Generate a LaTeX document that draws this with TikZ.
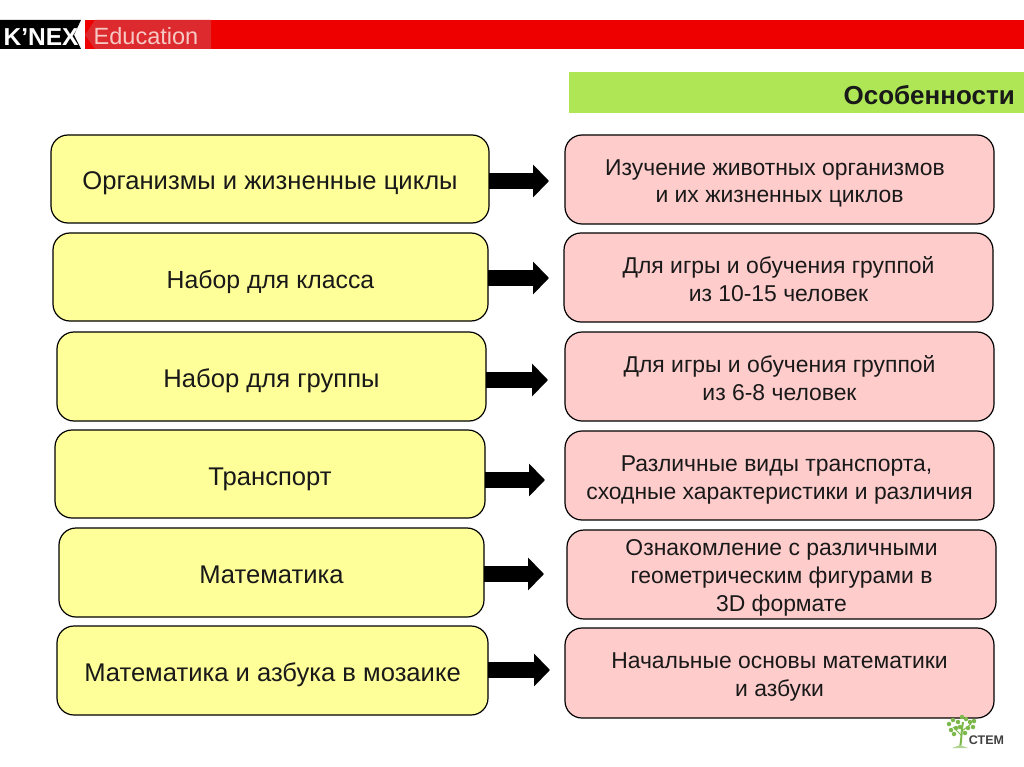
\documentclass[tikz,border=0pt]{standalone}
\usepackage{fontspec}
\setmainfont{Liberation Sans}
\usetikzlibrary{arrows.meta}
\definecolor{boxyellow}{HTML}{FFFF99}
\definecolor{boxpink}{HTML}{FFCCCC}
\definecolor{headgreen}{HTML}{AEE655}
\definecolor{bandred}{HTML}{EE0000}
\definecolor{logored}{HTML}{DC2A2E}
\definecolor{logotext}{HTML}{F6C9C4}
\definecolor{treegreen}{HTML}{7DB84A}
\tikzset{
  topic/.style={draw=black, fill=boxyellow, rounded corners=17pt, line width=1.2pt, inner sep=0pt, outer sep=0pt, align=center, text=black!90, text height=22pt, text depth=0pt, font=\fontsize{25.6}{28}\selectfont},
  feature/.style={draw=black, fill=boxpink, rounded corners=17pt, line width=1.2pt, inner sep=0pt, outer sep=0pt, align=center, text=black!90, text height=47pt, text depth=0pt, font=\fontsize{22.9}{27.8}\selectfont},
  bigarrow/.style={draw=black, line width=16pt, -{Triangle[length=16pt, width=32pt]}},
  leaf/.style={fill=treegreen, draw=none, circle, inner sep=0pt, minimum size=4.5pt},
}
\begin{document}
\begin{tikzpicture}[x=1pt, y=-1pt]
\useasboundingbox [fill=white] (0,0) rectangle (1024,767);

% top band
\fill [bandred] (85,20) rectangle (1024,49);
\fill [logored] (85,35) -- (95,20) -- (211,20) -- (211,49) -- (95,49) -- cycle;
\fill [black] (0,20) -- (81,20) -- (74,35) -- (81,49) -- (0,49) -- cycle;
\node (knex) [text=white, font=\bfseries\fontsize{24.5}{25}\selectfont, inner sep=0pt] at (41,37) {K’NEX};
\node (education) [text=logotext, font=\fontsize{23.5}{24}\selectfont, inner sep=0pt] at (146,36) {Education};

% heading
\node (head) [fill=headgreen, minimum width=455pt, minimum height=41pt, inner sep=0pt] at (796.5,92.5) {};
\node (headtext) [anchor=east, font=\bfseries\fontsize{26}{28}\selectfont, text=black!90, inner sep=0pt] at (1015,95) {Особенности};

% left column
\node (org) [topic, minimum width=438pt, minimum height=88pt] at (270,179) {Организмы и жизненные циклы};
\node (cls) [topic, font=\fontsize{24.8}{28}\selectfont, minimum width=435pt, minimum height=88pt] at (270.5,277) {Набор для класса};
\node (grp) [topic, minimum width=429pt, minimum height=89pt] at (271.5,376.5) {Набор для группы};
\node (trn) [topic, minimum width=430pt, minimum height=88pt] at (270,474) {Транспорт};
\node (mat) [topic, minimum width=425pt, minimum height=89pt] at (271.5,572.5) {Математика};
\node (mos) [topic, minimum width=431pt, minimum height=89pt] at (272.5,670.5) {Математика и азбука в мозаике};

% right column
\node (orgd) [feature, minimum width=429pt, minimum height=89pt] at (779.5,179.5) {Изучение животных организмов\hspace*{9pt}\\и их жизненных циклов};
\node (clsd) [feature, minimum width=429pt, minimum height=89pt] at (778.5,277.5) {Для игры и обучения группой\\из 10-15 человек};
\node (grpd) [feature, minimum width=429pt, minimum height=89pt] at (779.5,376.5) {Для игры и обучения группой\\из 6-8 человек};
\node (trnd) [feature, minimum width=429pt, minimum height=89pt] at (779.5,475.5) {Различные виды транспорта,\hspace*{6pt}\\сходные характеристики и различия};
\node (matd) [feature, text height=74pt, minimum width=429pt, minimum height=89pt] at (781.5,574.5) {Ознакомление с различными\\геометрическим фигурами в\\3D формате};
\node (mosd) [feature, minimum width=429pt, minimum height=90pt] at (779.5,673) {Начальные основы математики\\и азбуки};

% arrow ends
\coordinate (orgt) at (549,181);
\coordinate (clst) at (549,278);
\coordinate (grpt) at (548,380);
\coordinate (trnt) at (545,480);
\coordinate (matt) at (544,574);
\coordinate (most) at (550,670);

\draw [bigarrow] (org.east |- orgt) -- (orgt);
\draw [bigarrow] (cls.east |- clst) -- (clst);
\draw [bigarrow] (grp.east |- grpt) -- (grpt);
\draw [bigarrow] (trn.east |- trnt) -- (trnt);
\draw [bigarrow] (mat.east |- matt) -- (matt);
\draw [bigarrow] (mos.east |- most) -- (most);

% stem logo
\draw [treegreen, line width=2pt] (960,747) .. controls (962,738) and (961,732) .. (963,722);
\draw [treegreen, line width=1pt] (961,735) -- (953,727);
\draw [treegreen, line width=1pt] (962,731) -- (971,724);
\foreach \lx/\ly in {949/724, 953/720, 958/722, 962/717, 966/719, 970/722, 974/721, 951/730, 956/728, 968/728, 973/727, 960/727, 954/734, 965/733}
  \node [leaf] at (\lx,\ly) {};
\fill [treegreen!60] (952,748) -- (968,748) -- (960,745) -- cycle;
\node (stem) [text=black!75, font=\bfseries\fontsize{12.5}{13}\selectfont, inner sep=0pt] at (986.5,740) {СТЕМ};
\end{tikzpicture}
\end{document}
